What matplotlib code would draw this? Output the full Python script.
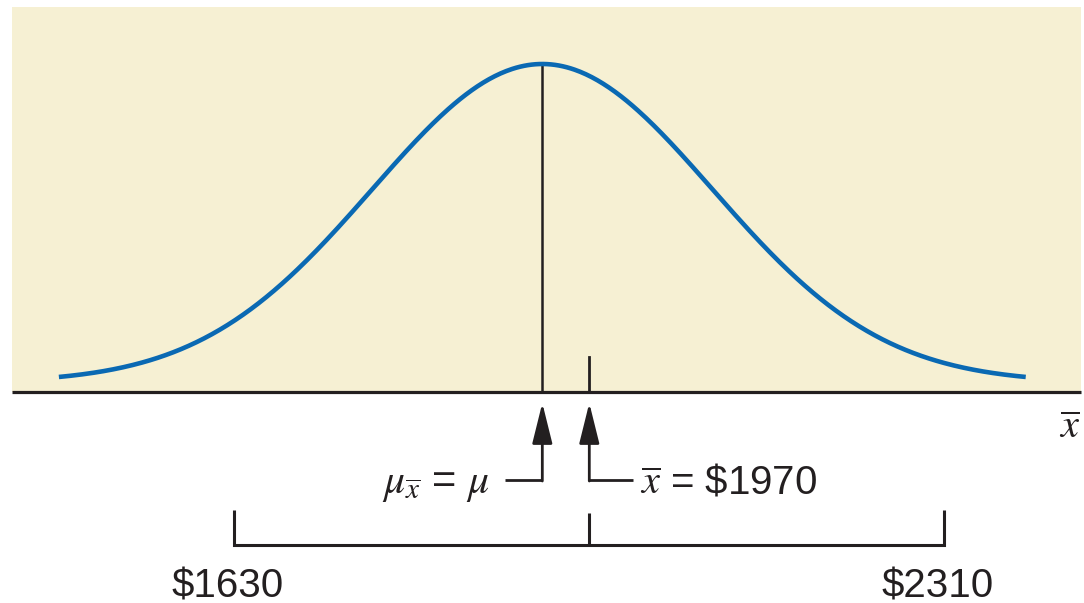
import numpy as np
import matplotlib
matplotlib.use('Agg')
import matplotlib.pyplot as plt
from matplotlib.patches import Rectangle

# ---- data (dollars) ----
mu = 1925                 # centre of the sampling distribution of x-bar
sigma_xbar = 163          # spread of the drawn curve
curve_range = [1462, 2388]
sample_mean = 1970
interval = [1630, 2310]
interval_labels = ['$1630', '$2310']
mu_label = r'$\mu_{\overline{x}}$ = $\mu$'
xbar_label = r'$\overline{x}$ = \$1970'
axis_label = r'$\overline{x}$'

# ---- style ----
BG = '#f6f0d3'
BLUE = '#0a69b3'
DARK = '#231f20'
plt.rcParams['font.family'] = ['Liberation Sans', 'DejaVu Sans']
plt.rcParams['mathtext.fontset'] = 'stix'

W, H = 1084, 603
fig = plt.figure(figsize=(W / 100, H / 100), dpi=100)
ax = fig.add_axes([0, 0, 1, 1])
ax.axis('off')

# layout helpers: map reference pixel positions to data coordinates
PX_ANCHOR, PX_PER_DOLLAR, AXIS_PY = 589.3, 1.0441, 392
def X(px):
    return sample_mean + (px - PX_ANCHOR) / PX_PER_DOLLAR
def Y(py):
    return AXIS_PY - py

ax.set_xlim(X(0), X(W))
ax.set_ylim(Y(H), Y(0))

# background panel
ax.add_patch(Rectangle((X(12), 0), X(1081) - X(12), Y(7), facecolor=BG,
                       edgecolor='none', zorder=0))

# normal curve
peak_h, floor_h = 328, 9.4
def curve(x):
    return floor_h + (peak_h - floor_h) * np.exp(-0.5 * ((x - mu) / sigma_xbar) ** 2)
xs = np.linspace(curve_range[0], curve_range[1], 500)
ax.plot(xs, curve(xs), color=BLUE, lw=3.3, solid_capstyle='butt', zorder=3)

# mean line and sample-mean tick
ax.plot([mu, mu], [0, curve(mu)], color=DARK, lw=1.8, zorder=2)
ax.plot([sample_mean, sample_mean], [0, Y(357)], color=DARK, lw=2.0, zorder=2)

# horizontal axis
ax.plot([X(12), X(1081)], [0, 0], color=DARK, lw=2.3, solid_capstyle='butt', zorder=4)
ax.text(X(1070), Y(427), axis_label, fontsize=29, ha='center', va='center', color=DARK)

# arrows with connectors
for x in (mu, sample_mean):
    ax.annotate('', xy=(x, Y(403)), xytext=(x, Y(481)),
                arrowprops=dict(arrowstyle='-|>,head_length=1.25,head_width=0.31',
                                mutation_scale=20, lw=2.0, color=DARK,
                                shrinkA=0, shrinkB=0))
ax.plot([X(505), mu], [Y(480), Y(480)], color=DARK, lw=2.0, solid_capstyle='butt')
ax.plot([sample_mean, X(633)], [Y(480), Y(480)], color=DARK, lw=2.0, solid_capstyle='butt')
ax.text(X(490), Y(493), mu_label, fontsize=30, ha='right', va='baseline', color=DARK)
ax.text(X(640), Y(493), xbar_label, fontsize=29, ha='left', va='baseline', color=DARK)

# interval bracket
ax.plot([interval[0], interval[0], interval[1], interval[1]],
        [Y(510), Y(545), Y(545), Y(510)], color=DARK, lw=2.2,
        solid_joinstyle='miter', solid_capstyle='butt')
ax.plot([sample_mean, sample_mean], [Y(545), Y(513)], color=DARK, lw=2.2,
        solid_capstyle='butt')
for x, lab in zip(interval, interval_labels):
    ax.text(x - 6, Y(597), lab, fontsize=29, ha='center', va='baseline', color=DARK)

fig.savefig('out.png', dpi=100)
